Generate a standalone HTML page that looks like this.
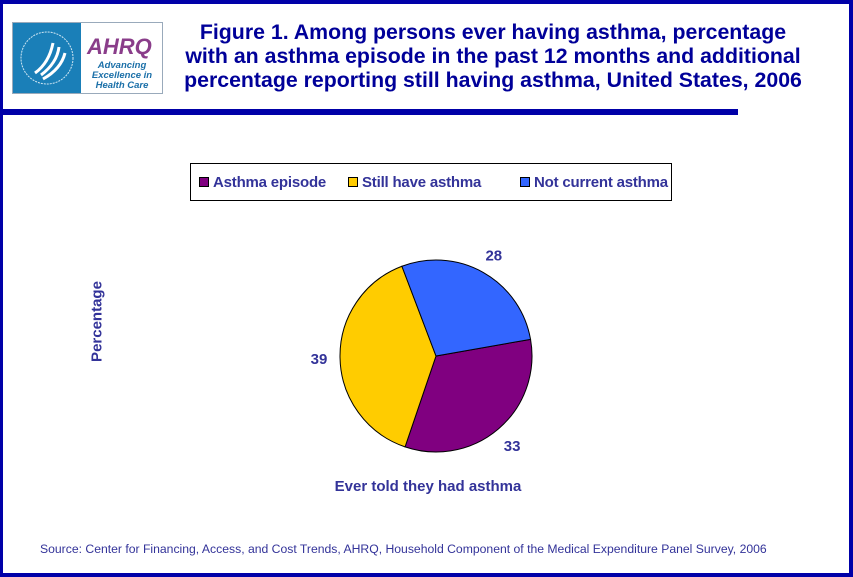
<!DOCTYPE html>
<html><head><meta charset="utf-8"><style>
body{margin:0;width:853px;height:576px;overflow:hidden;background:#fff;font-family:"Liberation Sans",Arial,sans-serif}
#frame{position:absolute;left:0;top:0;width:846px;height:569px;border:3px solid #0000a8;border-right-width:4px;border-bottom-width:4px;border-top-width:4px;background:#fff}
.t{position:absolute;color:#000099;font-weight:bold}
</style></head><body>
<div id="frame"></div>
<div style="position:absolute;left:12px;top:22px;width:149px;height:70px;border:1px solid #9ab;background:#fff">
 <div style="position:absolute;left:0;top:0;width:68px;height:70px;background:#1a7fb8">
  <svg width="68" height="70"><circle cx="34" cy="35" r="26" fill="none" stroke="#cfe6f3" stroke-width="1" stroke-dasharray="2 1"/><path d="M22 50 Q36 40 40 20 M28 52 Q44 40 46 24 M30 56 Q48 46 52 30" stroke="#fff" stroke-width="3" fill="none"/></svg>
 </div>
 <div style="position:absolute;left:74px;top:11px;font:italic bold 22px 'Liberation Sans',sans-serif;color:#8a3d8a">AHRQ</div>
 <div style="position:absolute;left:68px;top:38px;width:82px;text-align:center;font:italic bold 9.5px/10px 'Liberation Sans',sans-serif;color:#1a6fa8">Advancing<br>Excellence in<br>Health Care</div>
</div>
<div class="t" style="left:160px;top:20px;width:666px;text-align:center;font-size:21.3px;line-height:24px">Figure 1. Among persons ever having asthma, percentage<br>with an asthma episode in the past 12 months and additional<br>percentage reporting still having asthma, United States, 2006</div>
<div style="position:absolute;left:3px;top:109px;width:735px;height:6px;background:#0000a8"></div>
<div style="position:absolute;left:190px;top:163px;width:482px;height:38px;border:1px solid #000;box-sizing:border-box;font-size:15px;font-weight:bold;color:#333399;letter-spacing:-0.2px">
 <span style="position:absolute;left:8px;top:10px"><span style="display:inline-block;width:8px;height:8px;background:#800080;border:1px solid #000;margin-right:4px"></span>Asthma episode</span>
 <span style="position:absolute;left:157px;top:10px"><span style="display:inline-block;width:8px;height:8px;background:#ffcc00;border:1px solid #000;margin-right:4px"></span>Still have asthma</span>
 <span style="position:absolute;left:329px;top:10px"><span style="display:inline-block;width:8px;height:8px;background:#3366ff;border:1px solid #000;margin-right:4px"></span>Not current asthma</span>
</div>
<div class="t" style="left:52px;top:313px;width:90px;text-align:center;font-size:15px;color:#333399;transform:rotate(-90deg)">Percentage</div>
<div class="t" style="left:278px;top:478px;width:300px;text-align:center;font-size:15px;color:#333399">Ever told they had asthma</div>
<div class="t" style="left:40px;top:542px;font-size:12.2px;font-weight:normal;color:#333399">Source: Center for Financing, Access, and Cost Trends, AHRQ, Household Component of the Medical Expenditure Panel Survey, 2006</div>
<svg id="pie" width="853" height="576" style="position:absolute;left:0;top:0"></svg>
<script>
const categories=["Asthma episode","Still have asthma","Not current asthma"];
const values=[33,39,28];
const colors=["#800080","#ffcc00","#3366ff"];
const svg=document.getElementById('pie');
const cx=436,cy=356,r=96,start=-10;
const total=values.reduce((a,b)=>a+b,0);
let a=start;
const ns="http://www.w3.org/2000/svg";
const pt=(deg,rr)=>[cx+rr*Math.cos(deg*Math.PI/180),cy+rr*Math.sin(deg*Math.PI/180)];
values.forEach((v,i)=>{
  const sweep=v/total*360;const b=a+sweep;
  const [x1,y1]=pt(a,r),[x2,y2]=pt(b,r);
  const p=document.createElementNS(ns,'path');
  p.setAttribute('d',`M${cx},${cy}L${x1},${y1}A${r},${r} 0 ${sweep>180?1:0} 1 ${x2},${y2}Z`);
  p.setAttribute('fill',colors[i]);p.setAttribute('stroke','#000');p.setAttribute('stroke-width','1');
  
  
  svg.appendChild(p);
  const m=(a+b)/2;const [lx,ly]=pt(m,r+21);
  const t=document.createElementNS(ns,'text');
  t.setAttribute('x',lx);t.setAttribute('y',ly+6);t.setAttribute('text-anchor','middle');
  t.setAttribute('font-family','Liberation Sans, sans-serif');t.setAttribute('font-size','15');t.setAttribute('font-weight','bold');t.setAttribute('fill','#333399');
  t.textContent=v;
  
  
  svg.appendChild(t);
  a=b;
});
</script>
</body></html>
